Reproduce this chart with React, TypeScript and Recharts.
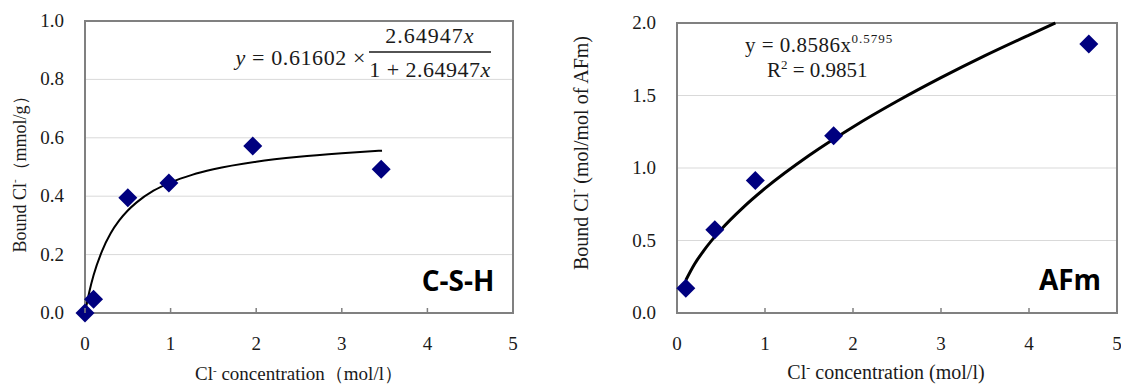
import React from "react";
import { ComposedChart, Line, Scatter, XAxis, YAxis, CartesianGrid, ReferenceArea } from "recharts";

const xTicks = [0, 1, 2, 3, 4, 5];

// C-S-H panel
const cshYTicks = [0, 0.2, 0.4, 0.6, 0.8, 1.0];
const cshMeasured = [
  { x: 0, y: 0 },
  { x: 0.1, y: 0.047 },
  { x: 0.5, y: 0.395 },
  { x: 0.98, y: 0.445 },
  { x: 1.96, y: 0.572 },
  { x: 3.46, y: 0.492 },
];
const cshFit = [
  { x: 0, y: 0 },
  { x: 0.05, y: 0.072 },
  { x: 0.1, y: 0.129 },
  { x: 0.2, y: 0.213 },
  { x: 0.3, y: 0.273 },
  { x: 0.4, y: 0.317 },
  { x: 0.5, y: 0.351 },
  { x: 0.6, y: 0.378 },
  { x: 0.8, y: 0.419 },
  { x: 1.0, y: 0.447 },
  { x: 1.25, y: 0.473 },
  { x: 1.5, y: 0.492 },
  { x: 2.0, y: 0.518 },
  { x: 2.5, y: 0.535 },
  { x: 3.0, y: 0.547 },
  { x: 3.47, y: 0.556 },
];

// AFm panel
const afmYTicks = [0, 0.5, 1.0, 1.5, 2.0];
const afmMeasured = [
  { x: 0.1, y: 0.17 },
  { x: 0.43, y: 0.574 },
  { x: 0.89, y: 0.914 },
  { x: 1.78, y: 1.223 },
  { x: 4.68, y: 1.855 },
];
const afmFit = [
  { x: 0.1, y: 0.226 },
  { x: 0.2, y: 0.338 },
  { x: 0.3, y: 0.427 },
  { x: 0.5, y: 0.575 },
  { x: 0.75, y: 0.727 },
  { x: 1.0, y: 0.859 },
  { x: 1.5, y: 1.086 },
  { x: 2.0, y: 1.283 },
  { x: 2.5, y: 1.46 },
  { x: 3.0, y: 1.623 },
  { x: 3.5, y: 1.775 },
  { x: 4.0, y: 1.917 },
  { x: 4.3, y: 2.0 },
];

const serif = "'Liberation Serif', 'Times New Roman', serif";
const axisGray = "#808080";
const navy = "#00007f";

const Diamond = (props: any) => {
  const { cx, cy } = props;
  if (cx == null || cy == null) return null;
  const r = 9.5;
  return <polygon points={`${cx},${cy - r} ${cx + r},${cy} ${cx},${cy + r} ${cx - r},${cy}`} fill={navy} />;
};

const XTick = ({ x, y, payload }: any) => (
  <g>
    <line x1={x} y1={y} x2={x} y2={y - 5} stroke={axisGray} strokeWidth={1.5} />
    <text x={x} y={y + 37} textAnchor="middle" fontSize={19} style={{ fontFamily: serif }} fill="#1a1a1a">
      {payload.value}
    </text>
  </g>
);

const YTick = ({ x, y, payload }: any) => (
  <text x={x - 21} y={y + 6} textAnchor="end" fontSize={19} style={{ fontFamily: serif }} fill="#1a1a1a">
    {Number(payload.value).toFixed(1)}
  </text>
);

function Panel({ left, width, top, right, yAxisWidth, yMax, yTicks, measured, fit, fitWidth }: any) {
  return (
    <div style={{ position: "absolute", left, top: 0 }}>
      <ComposedChart width={width} height={385} margin={{ top, right, bottom: 0, left: 0 }}>
        <CartesianGrid horizontal vertical={false} stroke="#d9d9d9" strokeWidth={1} />
        <XAxis
          type="number"
          dataKey="x"
          domain={[0, 5]}
          ticks={xTicks}
          interval={0}
          height={72}
          tickSize={0}
          tickMargin={0}
          tick={<XTick />}
          axisLine={{ stroke: axisGray, strokeWidth: 2 }}
        />
        <YAxis
          type="number"
          dataKey="y"
          domain={[0, yMax]}
          ticks={yTicks}
          interval={0}
          width={yAxisWidth}
          tickSize={0}
          tickMargin={0}
          tick={<YTick />}
          axisLine={{ stroke: axisGray, strokeWidth: 2 }}
        />
        <ReferenceArea x1={0} x2={5} y1={0} y2={yMax} fill="none" stroke={axisGray} strokeWidth={2} />
        <Line
          data={fit}
          dataKey="y"
          type="monotone"
          dot={false}
          stroke="#000"
          strokeWidth={fitWidth}
          isAnimationActive={false}
        />
        <Scatter data={measured} shape={<Diamond />} isAnimationActive={false} />
      </ComposedChart>
    </div>
  );
}

export default function App() {
  return (
    <div style={{ position: "absolute", left: 0, top: 0, width: 1121, height: 385, background: "#fff", overflow: "hidden" }}>
      <Panel left={0} width={560} top={21} right={47} yAxisWidth={85} yMax={1} yTicks={cshYTicks} measured={cshMeasured} fit={cshFit} fitWidth={2} />
      <Panel left={560} width={561} top={23} right={4} yAxisWidth={117} yMax={2} yTicks={afmYTicks} measured={afmMeasured} fit={afmFit} fitWidth={3} />

      <svg width={1121} height={385} style={{ position: "absolute", left: 0, top: 0, pointerEvents: "none", fontFamily: serif }}>
        <g fill="#1a1a1a">
          {/* left panel titles */}
          <text transform="translate(20,170) rotate(-90)" textAnchor="middle" dominantBaseline="central" fontSize={18}>
            Bound Cl<tspan dy={-6} fontSize={11}>-</tspan>
            <tspan dy={6}>（mmol/g）</tspan>
          </text>
          <text x={299} y={380} textAnchor="middle" fontSize={19}>
            Cl<tspan dy={-6} fontSize={11}>-</tspan>
            <tspan dy={6}> concentration（mol/l）</tspan>
          </text>

          {/* left equation */}
          <g fontSize={22}>
            <text x={366} y={65} textAnchor="end" letterSpacing={0.6}>
              <tspan fontStyle="italic">y</tspan> = 0.61602 ×
            </text>
            <text x={430} y={43} textAnchor="middle" letterSpacing={1}>
              2.64947<tspan fontStyle="italic">x</tspan>
            </text>
            <text x={430} y={76.5} textAnchor="middle" letterSpacing={0.5}>
              1 + 2.64947<tspan fontStyle="italic">x</tspan>
            </text>
          </g>
          <line x1={369} y1={52} x2={491} y2={52} stroke="#1a1a1a" strokeWidth={1.3} />

          {/* right panel titles */}
          <text transform="translate(581,153) rotate(-90)" textAnchor="middle" dominantBaseline="central" fontSize={20}>
            Bound Cl<tspan dy={-7} fontSize={12}>-</tspan>
            <tspan dy={7}> (mol/mol of AFm)</tspan>
          </text>
          <text x={886} y={379} textAnchor="middle" fontSize={20}>
            Cl<tspan dy={-7} fontSize={12}>-</tspan>
            <tspan dy={7}> concentration (mol/l)</tspan>
          </text>

          {/* right equation */}
          <text x={745} y={51.5} fontSize={21} letterSpacing={0.5}>
            y = 0.8586x<tspan dy={-9} fontSize={13} letterSpacing={1}>0.5795</tspan>
          </text>
          <text x={767} y={77} fontSize={21}>
            R<tspan dy={-8} fontSize={13}>2</tspan>
            <tspan dy={8}> = 0.9851</tspan>
          </text>
        </g>

        <g fontWeight={700} fontSize={28} fill="#000" style={{ fontFamily: "'Open Sans', 'Liberation Sans', sans-serif" }}>
          <text x={458} y={291} textAnchor="middle">C-S-H</text>
          <text x={1070} y={290} textAnchor="middle">AFm</text>
        </g>
      </svg>
    </div>
  );
}
